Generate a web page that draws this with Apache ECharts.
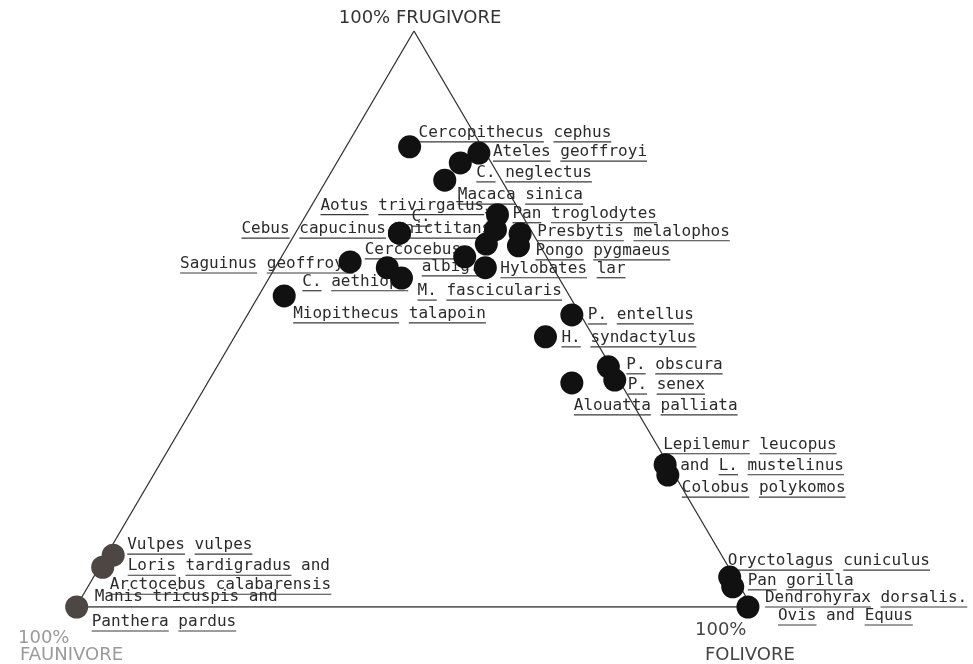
<!DOCTYPE html>
<html><head><meta charset="utf-8">
<script src="https://cdn.jsdelivr.net/npm/echarts@6/dist/echarts.min.js"></script>
<style>html,body{margin:0;padding:0;background:#fff}#c{width:973px;height:664px}</style>
</head><body><div id="c"></div>
<script>
// ---- DATA: diet composition (%) ----
const species = [
  'Cercopithecus cephus','Ateles geoffroyi','Cercopithecus neglectus','Macaca sinica',
  'Pan troglodytes','Aotus trivirgatus','(unlabelled)','Presbytis melalophos','Pongo pygmaeus',
  'Cercocebus albigena','Hylobates lar','Cebus capucinus','Cercopithecus nictitans',
  'Saguinus geoffroyi','Cercopithecus aethiops','Macaca fascicularis','Miopithecus talapoin',
  'Presbytis entellus','Hylobates syndactylus','Presbytis obscura','Presbytis senex',
  'Alouatta palliata','Lepilemur leucopus / L. mustelinus','Colobus polykomos',
  'Oryctolagus cuniculus','Pan gorilla','Dendrohyrax dorsalis, Ovis, Equus',
  'Vulpes vulpes','Loris tardigradus / Arctocebus calabarensis','Manis tricuspis / Panthera pardus'
];
const frugivore = [79.9,78.8,77.1,74.1, 68.1,65.5,63.0,64.8,62.7, 60.8,58.9,64.9,64.9, 59.9,58.9,57.1,54.0, 50.7,46.9,41.7,39.4, 38.9,24.7,22.9, 5.2,3.5,0.0, 9.0,6.9,0.0];
const folivore  = [ 9.4,20.2,18.3,17.5, 28.3,29.3,29.2,33.3,34.1, 27.1,31.1,15.4,15.4, 10.6,16.6,19.6, 3.8, 48.0,46.0,57.9,60.0, 53.9,74.8,76.1, 94.1,95.4,99.4, 1.0,0.5,0.1];
const faunivore = [10.7, 1.0, 4.6, 8.4,  3.6, 5.2, 7.8, 1.9, 3.2, 12.1,10.0,19.7,19.7, 29.5,24.5,23.3,42.2,  1.3, 7.1, 0.4, 0.6,  7.2, 0.5, 1.0,  0.7, 1.1, 0.6, 90.0,92.6,99.9];
const cornerTitles = ['100% FRUGIVORE', '100%', 'FOLIVORE', '100%', 'FAUNIVORE'];

// ---- LAYOUT (annotation placement relative to anchor dot, px); '~' = word not underlined ----
const LABELS = [
  ['Cercopithecus cephus','Cercopithecus cephus',9,-14],
  ['Ateles geoffroyi','Ateles geoffroyi',14,-1],
  ['C. neglectus','Cercopithecus neglectus',16,10],
  ['Macaca sinica','Macaca sinica',13,15],
  ['Aotus trivirgatus','Aotus trivirgatus',-175,-24],
  ['Pan troglodytes','Pan troglodytes',15,-1],
  ['C.','Cercopithecus nictitans',12,-16],
  ['Cebus capucinus','Cebus capucinus',-158,-4],
  ['nictitans','Cercopithecus nictitans',5,-4],
  ['Presbytis melalophos','Presbytis melalophos',17,-2],
  ['Cercocebus','Cercocebus albigena',-100,-7],
  ['albig.','Cercocebus albigena',-43,10],
  ['Pongo pygmaeus','Pongo pygmaeus',17,5],
  ['Saguinus geoffroyi','Saguinus geoffroyi',-170,2],
  ['Hylobates lar','Hylobates lar',15,1],
  ['C. aethiops','Cercopithecus aethiops',-85,14],
  ['M. fascicularis','Macaca fascicularis',16,13],
  ['Miopithecus talapoin','Miopithecus talapoin',9,18],
  ['P. entellus','Presbytis entellus',16,0],
  ['H. syndactylus','Hylobates syndactylus',16,1],
  ['P. obscura','Presbytis obscura',18,-2],
  ['P. senex','Presbytis senex',13,5],
  ['Alouatta palliata','Alouatta palliata',2,23],
  ['Lepilemur leucopus','Lepilemur leucopus / L. mustelinus',-2,-20],
  ['~and L. mustelinus','Lepilemur leucopus / L. mustelinus',15,1],
  ['Colobus polykomos','Colobus polykomos',14,13],
  ['Oryctolagus cuniculus','Oryctolagus cuniculus',-2,-16],
  ['Pan gorilla','Pan gorilla',15,-6],
  ['Dendrohyrax dorsalis.','Dendrohyrax dorsalis, Ovis, Equus',17,-9],
  ['Ovis ~and Equus','Dendrohyrax dorsalis, Ovis, Equus',30,9],
  ['Vulpes vulpes','Vulpes vulpes',14,-10],
  ['Loris tardigradus ~and','Loris tardigradus / Arctocebus calabarensis',25,-1],
  ['Arctocebus calabarensis','Loris tardigradus / Arctocebus calabarensis',7,18],
  ['~Manis ~tricuspis ~and','Manis tricuspis / Panthera pardus',18,-10],
  ['Panthera pardus','Manis tricuspis / Panthera pardus',15,15]
];
const faded = ['Vulpes vulpes','Loris tardigradus / Arctocebus calabarensis','Manis tricuspis / Panthera pardus'];

function toXY(fr, fo, fa) {
  const s = fr + fo + fa;
  const f = fr / s * 100, o = fo / s * 100;
  return [o + f / 2, f];
}

const chart = echarts.init(document.getElementById('c'), null, {renderer: 'canvas'});
const pts = species.map((s, i) => toXY(frugivore[i], folivore[i], faunivore[i]));
const cFru = toXY(100, 0, 0), cFol = toXY(0, 100, 0), cFau = toXY(0, 0, 100);

chart.setOption({
  animation: false,
  grid: {left: 76, top: 31, width: 676, height: 576, show: false},
  xAxis: {type: 'value', min: 0, max: 100, show: false},
  yAxis: {type: 'value', min: 0, max: 100, show: false},
  series: [
    {type: 'line', data: [cFau, cFol, cFru, cFau], symbol: 'none', silent: true, z: 1,
     lineStyle: {color: '#333', width: 1.3}},
    {type: 'scatter', symbolSize: 23, z: 5, silent: true,
     itemStyle: {color: '#111', opacity: 1},
     data: species.map((s, i) => ({name: s, value: pts[i],
       itemStyle: faded.indexOf(s) >= 0 ? {color: '#4d4643'} : undefined}))}
  ]
});

const FONT = '16px "DejaVu Sans Mono"';
const TFONT = '18px "DejaVu Sans"';
const ctx = document.createElement('canvas').getContext('2d');
ctx.font = FONT;
const spaceW = ctx.measureText(' ').width;
const px = name => chart.convertToPixel({gridIndex: 0}, pts[species.indexOf(name)]);

const els = [];
LABELS.forEach(([txt, anchor, dx, dy]) => {
  const a = px(anchor);
  let x = a[0] + dx;
  const y = a[1] + dy;
  txt.split(' ').forEach(w => {
    const plain = w[0] === '~';
    const word = plain ? w.slice(1) : w;
    const wd = ctx.measureText(word).width;
    els.push({type: 'text', x: x, y: y, z: 2,
      style: {text: word, font: FONT, fill: '#2b2b2b', align: 'left', verticalAlign: 'middle'}});
    if (!plain) {
      els.push({type: 'line', z: 2, shape: {x1: x, y1: y + 9, x2: x + wd, y2: y + 9},
        style: {stroke: '#3a3a3a', lineWidth: 1.2}});
    }
    x += wd + spaceW;
  });
});

// arrow from "Aotus trivirgatus" to its dot
(function () {
  const a = px('Aotus trivirgatus');
  const sx = a[0] - 175 + ctx.measureText('Aotus trivirgatus').width + 2, sy = a[1] - 21;
  let vx = a[0] - sx, vy = a[1] - sy; const L = Math.hypot(vx, vy); vx /= L; vy /= L;
  const tx = a[0] - vx * 12, ty = a[1] - vy * 12;
  els.push({type: 'line', z: 2, shape: {x1: sx, y1: sy, x2: tx, y2: ty}, style: {stroke: '#333', lineWidth: 1.2}});
  const nx = -vy, ny = vx;
  els.push({type: 'polygon', z: 2, shape: {points: [[tx, ty], [tx - vx * 8 + nx * 3, ty - vy * 8 + ny * 3], [tx - vx * 8 - nx * 3, ty - vy * 8 - ny * 3]]},
    style: {fill: '#333'}});
})();

// corner titles
const pF = chart.convertToPixel({gridIndex: 0}, cFru);
const pO = chart.convertToPixel({gridIndex: 0}, cFol);
const pA = chart.convertToPixel({gridIndex: 0}, cFau);
function title(t, x, y, fill, align) {
  els.push({type: 'text', x: x, y: y, z: 2, style: {text: t, font: TFONT, fill: fill, align: align || 'left', verticalAlign: 'middle'}});
}
title(cornerTitles[0], pF[0] + 6, pF[1] - 13, '#333', 'center');
title(cornerTitles[1], pO[0] - 57, pO[1] + 23, '#444');
title(cornerTitles[2], pO[0] - 47, pO[1] + 48, '#444');
title(cornerTitles[3], pA[0] - 58, pA[1] + 31, '#9a9a9a');
title(cornerTitles[4], pA[0] - 56, pA[1] + 48, '#9a9a9a');

chart.setOption({graphic: {elements: els}});
</script>
</body></html>
